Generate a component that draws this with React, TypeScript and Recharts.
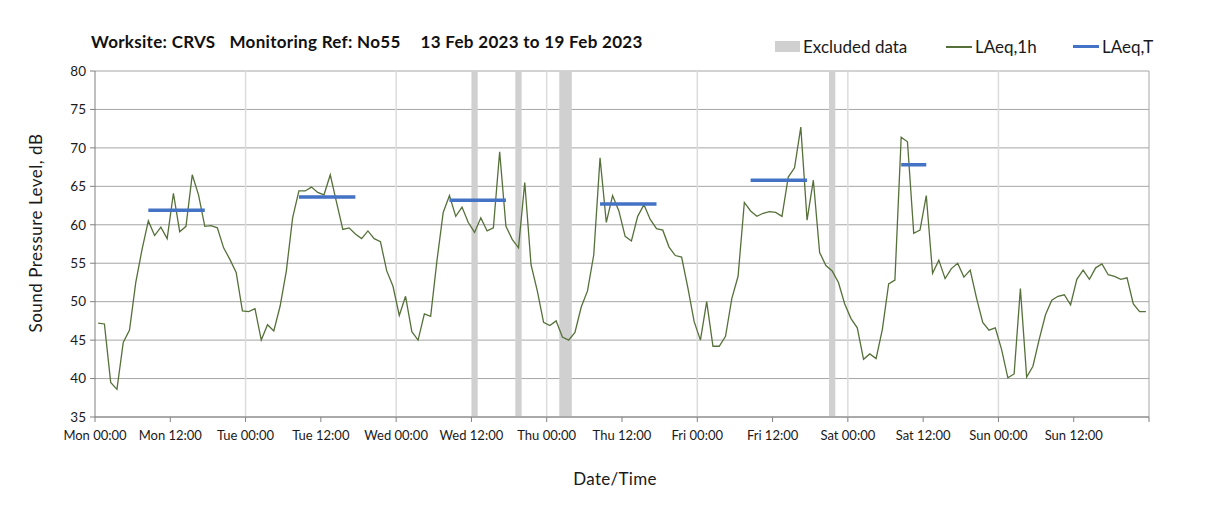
import React from 'react';
import { ComposedChart, Line, XAxis, YAxis, CartesianGrid, ReferenceArea, ReferenceLine } from 'recharts';

// hourly LAeq,1h values, one list per day (hour-ending midpoints)
const mon = [47.2, 47.1, 39.5, 38.6, 44.7, 46.3, 52.5, 56.8, 60.5, 58.6, 59.7, 58.2, 64.1, 59.1, 59.8, 66.5, 63.9, 59.8, 59.9, 59.6, 57.0, 55.5, 53.8, 48.8];
const tue = [48.7, 49.1, 45.0, 47.0, 46.2, 49.4, 54.0, 60.9, 64.4, 64.4, 64.9, 64.2, 63.9, 66.5, 62.9, 59.4, 59.6, 58.8, 58.2, 59.2, 58.2, 57.8, 54.0, 52.0];
const wed = [48.2, 50.7, 46.1, 45.0, 48.4, 48.1, 55.3, 61.6, 63.8, 61.1, 62.3, 60.3, 59.0, 60.9, 59.2, 59.6, 69.5, 59.8, 58.1, 57.0, 65.5, 54.8, 51.4, 47.3];
const thu = [46.9, 47.5, 45.4, 45.0, 46.0, 49.3, 51.4, 56.1, 68.7, 60.3, 63.8, 61.8, 58.5, 57.9, 61.1, 62.6, 60.7, 59.5, 59.3, 57.1, 56.0, 55.8, 51.8, 47.4];
const fri = [45.0, 50.0, 44.2, 44.2, 45.5, 50.4, 53.3, 62.9, 61.8, 61.1, 61.5, 61.7, 61.6, 61.1, 66.2, 67.4, 72.7, 60.6, 65.8, 56.4, 54.7, 54.0, 52.5, 49.7];
const sat = [47.8, 46.6, 42.5, 43.2, 42.6, 46.4, 52.3, 52.8, 71.4, 70.8, 58.9, 59.3, 63.8, 53.7, 55.4, 53.0, 54.3, 55.0, 53.2, 54.1, 50.5, 47.3, 46.3, 46.6];
const sun = [43.8, 40.1, 40.6, 51.7, 40.2, 41.6, 45.1, 48.3, 50.2, 50.7, 50.9, 49.6, 52.9, 54.1, 52.9, 54.4, 54.9, 53.5, 53.3, 52.9, 53.1, 49.7, 48.7, 48.7];

// LAeq,T daytime periods (hour index from Mon 00:00)
const periodStart = [8, 32, 56, 80, 104, 128];
const periodEnd = [17, 41, 65, 89, 113, 132];
const periodValue = [61.9, 63.6, 63.2, 62.7, 65.8, 67.8];

// excluded data windows (hours from Mon 00:00)
const excludedStart = [60, 67, 74, 117];
const excludedEnd = [61, 68, 76, 118];

const dayNames = ['Mon', 'Tue', 'Wed', 'Thu', 'Fri', 'Sat', 'Sun'];
const xTicks = [0, 12, 24, 36, 48, 60, 72, 84, 96, 108, 120, 132, 144, 156, 168];
const yTicks = [35, 40, 45, 50, 55, 60, 65, 70, 75, 80];
const dayLines = [24, 48, 72, 96, 120, 144];

const hourly = [...mon, ...tue, ...wed, ...thu, ...fri, ...sat, ...sun];

const data = hourly.map((v, i) => {
  const p = periodStart.findIndex((s, k) => i >= s && i <= periodEnd[k]);
  return { x: i + 0.5, laeq1h: v, laeqT: p >= 0 ? periodValue[p] : null };
});

const FONT = 'Lato, "Open Sans", sans-serif';
const GREEN = '#56703a';
const BLUE = '#4472c4';
const TEXT = '#1a1a1a';

const formatX = (v: number) => (v >= 168 ? '' : `${dayNames[Math.floor(v / 24) % 7]} ${v % 24 === 0 ? '00' : '12'}:00`);

const legendText = { position: 'absolute' as const, top: 36, fontFamily: FONT, fontSize: 17, color: TEXT, whiteSpace: 'nowrap' as const };

export default function App() {
  return (
    <div style={{ position: 'relative', margin: -8, width: 1208, height: 514, background: '#fff', overflow: 'hidden' }}>
      <div style={{ position: 'absolute', left: 6, top: -2, width: 1193, height: 512, border: '1px solid #d9d9d9' }} />
      <div style={{ position: 'absolute', top: 31, left: 91, fontFamily: FONT, fontWeight: 700, fontSize: 17, letterSpacing: 0.3, color: '#111', whiteSpace: 'nowrap' }}>
        <span>Worksite: CRVS</span>
        <span style={{ marginLeft: 14 }}>Monitoring Ref: No55</span>
        <span style={{ marginLeft: 20 }}>13 Feb 2023 to 19 Feb 2023</span>
      </div>

      {/* legend */}
      <span style={{ position: 'absolute', left: 775, top: 41, width: 25, height: 11, background: '#d0d0d0' }} />
      <span style={{ ...legendText, left: 803 }}>Excluded data</span>
      <span style={{ position: 'absolute', left: 946, top: 46, width: 26, height: 1.5, background: GREEN }} />
      <span style={{ ...legendText, left: 975 }}>LAeq,1h</span>
      <span style={{ position: 'absolute', left: 1073, top: 45, width: 26, height: 3, background: BLUE }} />
      <span style={{ ...legendText, left: 1102 }}>LAeq,T</span>

      <div
        style={{
          position: 'absolute', left: 35, top: 233, transform: 'translate(-50%, -50%) rotate(-90deg)',
          fontFamily: FONT, fontSize: 17, letterSpacing: 0.5, color: TEXT, whiteSpace: 'nowrap',
        }}
      >
        Sound Pressure Level, dB
      </div>
      <div style={{ position: 'absolute', left: 615, top: 478, transform: 'translate(-50%, -50%)', fontFamily: FONT, fontSize: 17, letterSpacing: 0.3, color: TEXT }}>
        Date/Time
      </div>
      <div style={{ position: 'absolute', left: 0, top: 0 }}>
        <ComposedChart width={1208} height={514} data={data} margin={{ top: 71, right: 59, bottom: 67, left: 55 }}>
          <CartesianGrid vertical={false} stroke="#a6a6a6" />
          {dayLines.map((d) => (
            <ReferenceLine key={d} x={d} stroke="#dcdcdc" strokeWidth={1.5} />
          ))}
          <ReferenceLine x={168} stroke="#a6a6a6" />
          {excludedStart.map((s, k) => (
            <ReferenceArea key={s} x1={s} x2={excludedEnd[k]} fill="#d0d0d0" fillOpacity={1} stroke="none" />
          ))}
          <XAxis
            type="number"
            dataKey="x"
            domain={[0, 168]}
            ticks={xTicks}
            tickFormatter={formatX}
            height={30}
            tickSize={5}
            tickMargin={9}
            stroke="#808080"
            tick={{ fill: TEXT, fontSize: 13, fontFamily: FONT }}
            interval={0}
          />
          <YAxis
            domain={[35, 80]}
            ticks={yTicks}
            width={40}
            tickSize={5}
            tickMargin={4}
            stroke="#808080"
            tick={{ fill: TEXT, fontSize: 13.5, fontFamily: FONT }}
          />
          <Line type="linear" dataKey="laeq1h" name="LAeq,1h" stroke={GREEN} strokeWidth={1.3} dot={false} isAnimationActive={false} />
          <Line type="linear" dataKey="laeqT" name="LAeq,T" stroke={BLUE} strokeWidth={3.5} dot={false} connectNulls={false} isAnimationActive={false} />
        </ComposedChart>
      </div>
    </div>
  );
}
